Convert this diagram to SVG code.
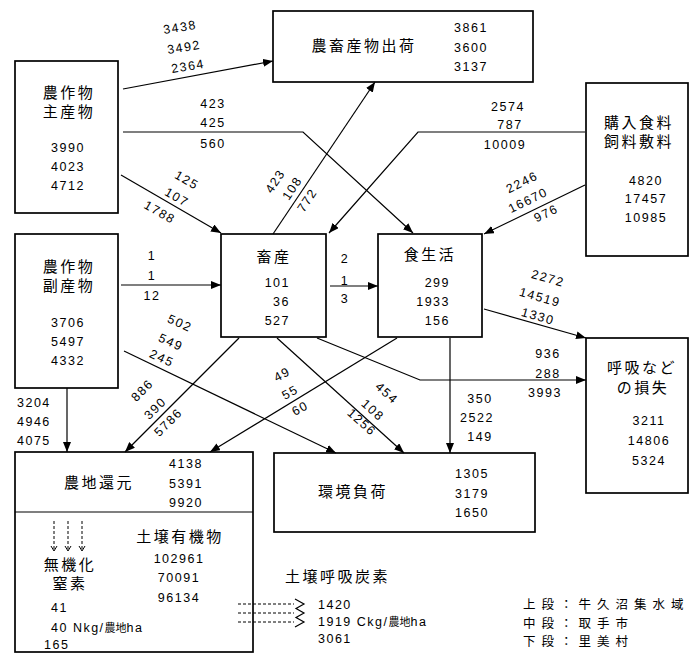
<svg xmlns="http://www.w3.org/2000/svg" width="690" height="657" viewBox="0 0 690 657">
<defs>
<style>
.box{fill:none;stroke:#000;stroke-width:1.7}
.ln{fill:none;stroke:#000;stroke-width:1.2}
.dl{fill:none;stroke:#000;stroke-width:1;stroke-dasharray:3,2}
.n{font-family:"Liberation Sans",Arial,sans-serif;font-size:12.5px;letter-spacing:1.5px;fill:#000}
.j{font-family:"Noto Sans CJK JP","Noto Sans CJK SC",sans-serif;font-size:15px;letter-spacing:2.5px;fill:#000}
.lg{font-family:"Noto Sans CJK JP","Noto Sans CJK SC",sans-serif;font-size:12.5px;letter-spacing:6px;fill:#000}
.m{text-anchor:middle}
.e{text-anchor:end}
</style>
<marker id="a" viewBox="0 0 10 8" refX="10" refY="4" markerWidth="10" markerHeight="8" markerUnits="userSpaceOnUse" orient="auto"><path d="M0,0L10,4L0,8z" fill="#000"/></marker>
<marker id="v" viewBox="0 0 8 8" refX="4" refY="8" markerWidth="8" markerHeight="8" markerUnits="userSpaceOnUse" orient="0"><path d="M1,3L4,8L7,3" fill="none" stroke="#000" stroke-width="1"/></marker>
</defs>
<rect width="690" height="657" fill="#fff"/>

<g id="connectors">
<path class="ln" marker-end="url(#a)" d="M123,89 L273,61"/>
<path class="ln" marker-end="url(#a)" d="M123,132 L303,132 L413,233"/>
<path class="ln" marker-end="url(#a)" d="M585,132 L418,132 L329,233"/>
<path class="ln" marker-end="url(#a)" d="M273,234 L375,82"/>
<path class="ln" marker-end="url(#a)" d="M121,175 L221,233"/>
<path class="ln" marker-end="url(#a)" d="M585,185 L484,234"/>
<path class="ln" marker-end="url(#a)" d="M121,285 L221,285"/>
<path class="ln" marker-end="url(#a)" d="M330,286 L378,286"/>
<path class="ln" marker-end="url(#a)" d="M484,309 L586,338"/>
<path class="ln" marker-end="url(#a)" d="M317,338 L420,380 L586,380"/>
<path class="ln" marker-end="url(#a)" d="M124,351 L336,453"/>
<path class="ln" marker-end="url(#a)" d="M239,338 L125,452"/>
<path class="ln" marker-end="url(#a)" d="M397,338 L210,452"/>
<path class="ln" marker-end="url(#a)" d="M277,338 L404,453"/>
<path class="ln" marker-end="url(#a)" d="M450,338 L450,453"/>
<path class="ln" marker-end="url(#a)" d="M67,388 L67,452"/>
</g>

<g id="labels">
<text class="n m" transform="translate(180,27) rotate(-9)" dy="4.5">3438</text>
<text class="n m" transform="translate(184,47) rotate(-9)" dy="4.5">3492</text>
<text class="n m" transform="translate(188,66) rotate(-9)" dy="4.5">2364</text>
<text class="n m" x="213" y="107.5">423</text>
<text class="n m" x="213" y="126.5">425</text>
<text class="n m" x="213" y="147.5">560</text>
<text class="n m" x="508" y="110.5">2574</text>
<text class="n m" x="510" y="128.5">787</text>
<text class="n m" x="505" y="148.5">10009</text>
<text class="n m" transform="translate(275,181) rotate(-56)" dy="4.5">423</text>
<text class="n m" transform="translate(292,188) rotate(-56)" dy="4.5">108</text>
<text class="n m" transform="translate(307,200) rotate(-56)" dy="4.5">772</text>
<text class="n m" transform="translate(187,180) rotate(30)" dy="4.5">125</text>
<text class="n m" transform="translate(177,197) rotate(30)" dy="4.5">107</text>
<text class="n m" transform="translate(160,212) rotate(30)" dy="4.5">1788</text>
<text class="n m" transform="translate(522,182) rotate(-26)" dy="4.5">2246</text>
<text class="n m" transform="translate(528,200) rotate(-26)" dy="4.5">16670</text>
<text class="n m" transform="translate(546,213) rotate(-26)" dy="4.5">976</text>
<text class="n m" x="152" y="259.5">1</text>
<text class="n m" x="152" y="279.5">1</text>
<text class="n m" x="152" y="299.5">12</text>
<text class="n m" x="345" y="262.5">2</text>
<text class="n m" x="345" y="284.5">1</text>
<text class="n m" x="345" y="302.5">3</text>
<text class="n m" transform="translate(548,278) rotate(16)" dy="4.5">2272</text>
<text class="n m" transform="translate(540,297) rotate(16)" dy="4.5">14519</text>
<text class="n m" transform="translate(538,316) rotate(16)" dy="4.5">1330</text>
<text class="n m" x="548" y="357.5">936</text>
<text class="n m" x="548" y="377.5">288</text>
<text class="n m" x="545" y="396.5">3993</text>
<text class="n m" x="480" y="402.5">350</text>
<text class="n m" x="477" y="421.5">2522</text>
<text class="n m" x="480" y="440.5">149</text>
<text class="n m" transform="translate(180,323) rotate(25)" dy="4.5">502</text>
<text class="n m" transform="translate(171,342) rotate(25)" dy="4.5">549</text>
<text class="n m" transform="translate(162,358) rotate(25)" dy="4.5">245</text>
<text class="n m" transform="translate(142,390) rotate(-45)" dy="4.5">886</text>
<text class="n m" transform="translate(155,408) rotate(-45)" dy="4.5">390</text>
<text class="n m" transform="translate(168,422) rotate(-45)" dy="4.5">5786</text>
<text class="n m" transform="translate(282,374) rotate(-28)" dy="4.5">49</text>
<text class="n m" transform="translate(290,392) rotate(-28)" dy="4.5">55</text>
<text class="n m" transform="translate(300,408) rotate(-28)" dy="4.5">60</text>
<text class="n m" transform="translate(387,393) rotate(42)" dy="4.5">454</text>
<text class="n m" transform="translate(373,410) rotate(42)" dy="4.5">108</text>
<text class="n m" transform="translate(362,422) rotate(42)" dy="4.5">1256</text>
<text class="n" x="17" y="406.5">3204</text>
<text class="n" x="17" y="425.5">4946</text>
<text class="n" x="17" y="444.5">4075</text>
</g>

<g id="n1">
<rect class="box" x="15" y="61" width="103" height="152"/>
<text class="j m" x="69" y="98">農作物</text>
<text class="j m" x="69" y="117">主産物</text>
<text class="n m" x="68" y="151.5">3990</text>
<text class="n m" x="68" y="170.5">4023</text>
<text class="n m" x="68" y="189.5">4712</text>
</g>
<g id="n2">
<rect class="box" x="273" y="11" width="260" height="71"/>
<text class="j m" x="364" y="51">農畜産物出荷</text>
<text class="n m" x="471" y="31.5">3861</text>
<text class="n m" x="471" y="51.5">3600</text>
<text class="n m" x="471" y="70.5">3137</text>
</g>
<g id="n3">
<rect class="box" x="586" y="83" width="102" height="173"/>
<text class="j m" x="639" y="128">購入食料</text>
<text class="j m" x="639" y="147">飼料敷料</text>
<text class="n m" x="646" y="184.5">4820</text>
<text class="n m" x="646" y="202.5">17457</text>
<text class="n m" x="646" y="221.5">10985</text>
</g>
<g id="n4">
<rect class="box" x="15" y="234" width="103" height="154"/>
<text class="j m" x="69" y="272">農作物</text>
<text class="j m" x="69" y="291">副産物</text>
<text class="n m" x="68" y="326.5">3706</text>
<text class="n m" x="68" y="345.5">5497</text>
<text class="n m" x="68" y="364.5">4332</text>
</g>
<g id="n5">
<rect class="box" x="221" y="234" width="105" height="103"/>
<text class="j m" x="274" y="262">畜産</text>
<text class="n e" x="290" y="286.5">101</text>
<text class="n e" x="290" y="305.5">36</text>
<text class="n e" x="290" y="324.5">527</text>
</g>
<g id="n6">
<rect class="box" x="378" y="234" width="104" height="103"/>
<text class="j m" x="430" y="260">食生活</text>
<text class="n e" x="450" y="286.5">299</text>
<text class="n e" x="450" y="305.5">1933</text>
<text class="n e" x="450" y="324.5">156</text>
</g>
<g id="n7">
<rect class="box" x="586" y="338" width="102" height="155"/>
<text class="j m" x="642" y="373">呼吸など</text>
<text class="j m" x="643" y="393">の損失</text>
<text class="n m" x="649" y="424.5">3211</text>
<text class="n m" x="649" y="444.5">14806</text>
<text class="n m" x="649" y="464.5">5324</text>
</g>
<g id="n8">
<rect class="box" x="15" y="452" width="238" height="200"/>
<line class="ln" x1="15" y1="512" x2="253" y2="512"/>
<text class="j m" x="99" y="488">農地還元</text>
<text class="n m" x="186" y="467.5">4138</text>
<text class="n m" x="186" y="487.5">5391</text>
<text class="n m" x="186" y="506.5">9920</text>
<text class="j m" x="180" y="542">土壌有機物</text>
<text class="n m" x="179" y="562.5">102961</text>
<text class="n m" x="179" y="582">70091</text>
<text class="n m" x="179" y="601.5">96134</text>
<line class="dl" x1="54" y1="521" x2="54" y2="551" marker-end="url(#v)"/>
<line class="dl" x1="68" y1="521" x2="68" y2="551" marker-end="url(#v)"/>
<line class="dl" x1="82" y1="521" x2="82" y2="551" marker-end="url(#v)"/>
<text class="j m" x="70" y="570">無機化</text>
<text class="j m" x="70" y="589">窒素</text>
<text class="n" x="51" y="611.5">41</text>
<text class="n" x="51" y="631.5">40 Nkg/<tspan style="font-family:'Noto Sans CJK JP',sans-serif;font-size:11px;letter-spacing:0">農地</tspan>ha</text>
<text class="n" x="44" y="648.5">165</text>
</g>
<g id="n9">
<rect class="box" x="274" y="453" width="261" height="79"/>
<text class="j m" x="353" y="497">環境負荷</text>
<text class="n m" x="472" y="477.5">1305</text>
<text class="n m" x="472" y="497.5">3179</text>
<text class="n m" x="472" y="516.5">1650</text>
</g>
<g id="n10">
<text class="j" x="285" y="582">土壌呼吸炭素</text>
<line class="dl" x1="238" y1="604" x2="294" y2="604"/>
<line class="dl" x1="238" y1="613" x2="294" y2="613"/>
<line class="dl" x1="238" y1="622" x2="294" y2="622"/>
<polyline class="ln" points="295,599 304,604 296,608.5 304,613 296,617.5 304,622 295,627"/>
<text class="n" x="318" y="608.5">1420</text>
<text class="n" x="318" y="625.5">1919 Ckg/<tspan style="font-family:'Noto Sans CJK JP',sans-serif;font-size:11px;letter-spacing:0">農地</tspan>ha</text>
<text class="n" x="318" y="642.5">3061</text>
</g>
<g id="legend">
<text class="lg" x="523" y="609">上段：牛久沼集水域</text>
<text class="lg" x="523" y="627.5">中段：取手市</text>
<text class="lg" x="523" y="646">下段：里美村</text>
</g>
</svg>
